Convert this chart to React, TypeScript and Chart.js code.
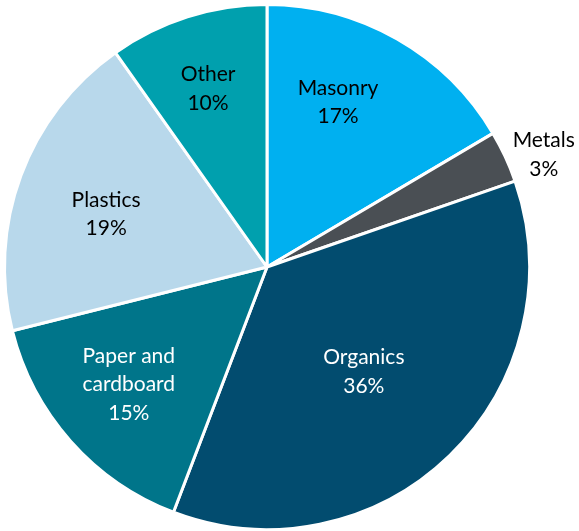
import React, { useEffect, useRef } from "react";
import { Chart, registerables } from "chart.js";

Chart.register(...registerables);

const categories = ["Masonry", "Metals", "Organics", "Paper and cardboard", "Plastics", "Other"];
const labelLines = [["Masonry", "17%"], ["Metals", "3%"], ["Organics", "36%"], ["Paper and", "cardboard", "15%"], ["Plastics", "19%"], ["Other", "10%"]];
const values = [16.5, 3.2, 36.1, 15.3, 19.1, 9.8];
const colors = ["#00B0F0", "#4A4F54", "#024C6F", "#00758A", "#B8D8EB", "#00A0AE"];
const textColors = ["#000000", "#000000", "#FFFFFF", "#FFFFFF", "#000000", "#000000"];
// label placement: fraction of radius, angular offset (degrees)
const labelRadius = [0.687, 1.139, 0.541, 0.689, 0.646, 0.718];
const labelAngleShift = [-6.5, 2.6, 1.1, 1.4, -1.9, -0.6];

const FONT_PX = 21;
const LINE_H = 28.5;
const CAP_H = 0.72 * FONT_PX;

const labelPlugin = {
  id: "sliceLabels",
  afterDatasetsDraw(chart: any) {
    const ctx = chart.ctx;
    const meta = chart.getDatasetMeta(0);
    ctx.save();
    ctx.font = `${FONT_PX}px Lato, 'Open Sans', sans-serif`;
    ctx.textAlign = "center";
    ctx.textBaseline = "alphabetic";
    meta.data.forEach((arc: any, i: number) => {
      const { x, y, startAngle, endAngle, outerRadius } = arc.getProps(["x", "y", "startAngle", "endAngle", "outerRadius"], true);
      const mid = (startAngle + endAngle) / 2 + (labelAngleShift[i] * Math.PI) / 180;
      const r = outerRadius * labelRadius[i];
      const cx = x + Math.cos(mid) * r;
      const cy = y + Math.sin(mid) * r;
      const lines = labelLines[i];
      const b1 = cy + CAP_H / 2 - ((lines.length - 1) * LINE_H) / 2;
      ctx.fillStyle = textColors[i];
      lines.forEach((t, k) => {
        ctx.fillText(t, cx, b1 + k * LINE_H);
      });
    });
    ctx.restore();
  },
};

export default function App() {
  const ref = useRef<HTMLCanvasElement>(null);
  useEffect(() => {
    const chart = new Chart(ref.current!, {
      type: "pie",
      data: {
        labels: categories,
        datasets: [
          {
            data: values,
            backgroundColor: colors,
            borderColor: "#FFFFFF",
            borderWidth: 3,
          },
        ],
      },
      options: {
        animation: false,
        responsive: false,
        maintainAspectRatio: false,
        layout: { padding: { left: 3, top: 3, right: 48, bottom: 0 } },
        plugins: { legend: { display: false }, tooltip: { enabled: false } },
      },
      plugins: [labelPlugin],
    });
    return () => chart.destroy();
  }, []);
  return (
    <div style={{ position: "fixed", left: 0, top: 0, width: 579, height: 531, background: "#fff" }}>
      <canvas ref={ref} width={579} height={531} style={{ width: 579, height: 531 }} />
    </div>
  );
}
